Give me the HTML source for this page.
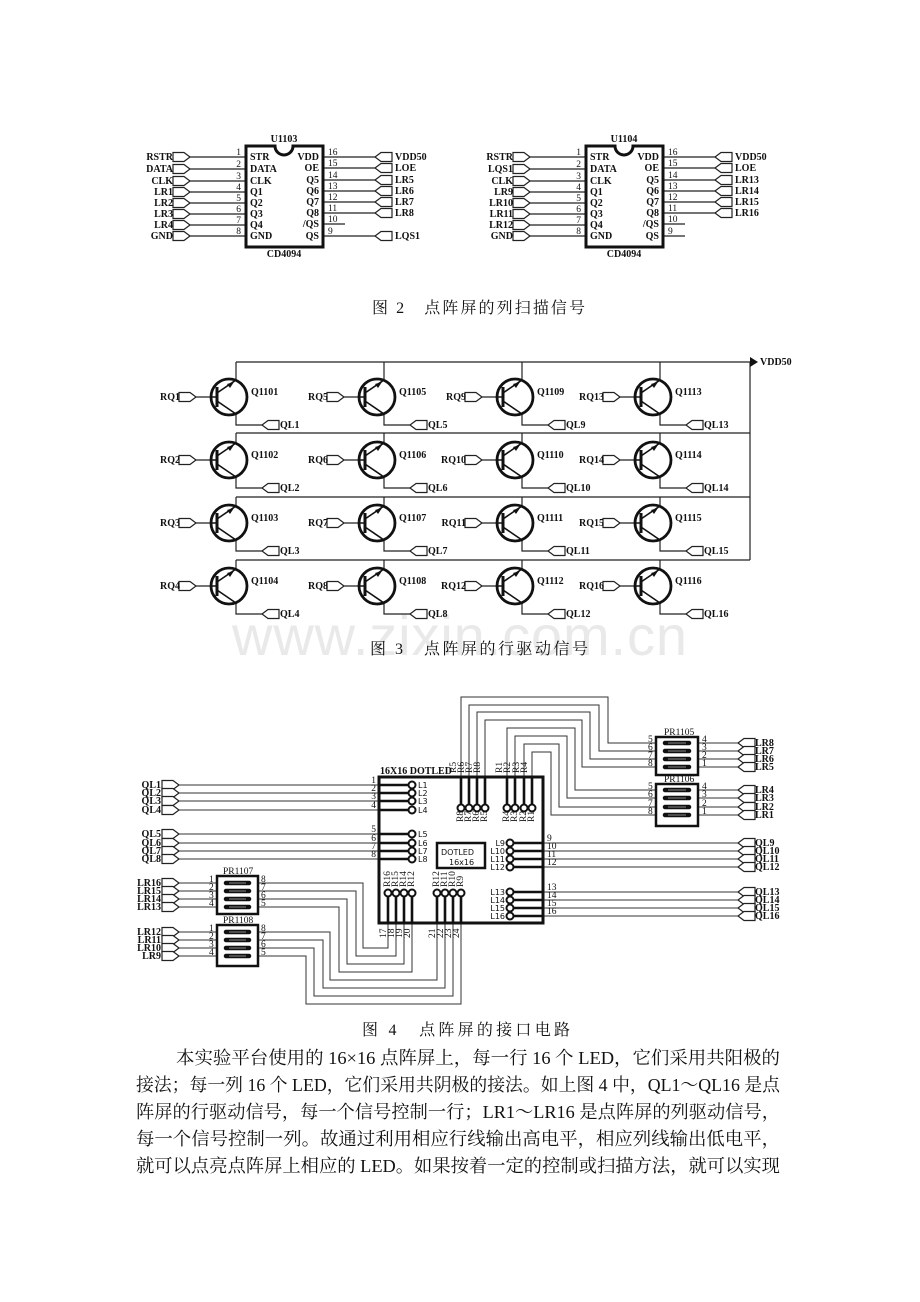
<!DOCTYPE html>
<html><head><meta charset="utf-8"><style>
html,body{margin:0;padding:0;background:#fff}
svg{display:block}
.t{font-family:"Liberation Serif",serif;font-size:10px;font-weight:bold;fill:#111}
.s{font-family:"Liberation Serif",serif;font-size:9.5px;fill:#111}
.n{font-family:"DejaVu Sans","Liberation Sans",sans-serif;font-size:8px;fill:#111}
.cap{font-family:"Liberation Serif","Noto Serif CJK SC",serif;font-size:16px;fill:#111}
.p{font-family:"Liberation Serif","Noto Serif CJK SC",serif;font-size:18px;fill:#111}
</style></head><body>
<svg width="920" height="1302" viewBox="0 0 920 1302" xmlns="http://www.w3.org/2000/svg">
<defs>
<path id="cr" d="M0,-4.5H11L17,0L11,4.5H0Z" fill="#fff" stroke="#222" stroke-width="1.2"/>
<path id="cl" d="M17,-4.5H6L0,0L6,4.5H17Z" fill="#fff" stroke="#222" stroke-width="1.2"/>
<g id="q" fill="none" stroke="#111">
<circle r="18" stroke-width="2.8"/>
<line x1="-12" y1="-10" x2="-12" y2="10" stroke-width="3"/>
<line x1="-18" y1="0" x2="-12" y2="0" stroke-width="1.5"/>
<line x1="-12" y1="-4" x2="7" y2="-17" stroke-width="1.6"/>
<line x1="-12" y1="4" x2="7" y2="17" stroke-width="1.6"/>
<path d="M5,-15L-2,-13L1,-9Z" fill="#111" stroke="none"/>
</g>
<circle id="pd" r="3.5" fill="#fff" stroke="#111" stroke-width="2"/>
</defs>

<!-- ============ FIG 2 ============ -->
<g id="ic1">
<g stroke="#222" stroke-width="1.3">
<line x1="190" y1="157" x2="246" y2="157"/><line x1="190" y1="169" x2="246" y2="169"/>
<line x1="190" y1="181" x2="246" y2="181"/><line x1="190" y1="192" x2="246" y2="192"/>
<line x1="190" y1="203" x2="246" y2="203"/><line x1="190" y1="214" x2="246" y2="214"/>
<line x1="190" y1="225" x2="246" y2="225"/><line x1="190" y1="236" x2="246" y2="236"/>
<line x1="323" y1="157" x2="375" y2="157"/><line x1="323" y1="168" x2="375" y2="168"/>
<line x1="323" y1="180" x2="375" y2="180"/><line x1="323" y1="191" x2="375" y2="191"/>
<line x1="323" y1="202" x2="375" y2="202"/><line x1="323" y1="213" x2="375" y2="213"/>
<line x1="323" y1="224" x2="345" y2="224"/><line x1="323" y1="236" x2="375" y2="236"/>
</g>
<path d="M246,146H275A9,9 0 0 0 293,146H323V247H246Z" fill="#fff" stroke="#111" stroke-width="3"/>
<text class="t" x="284" y="142" text-anchor="middle">U1103</text>
<text class="t" x="284" y="257" text-anchor="middle">CD4094</text>
<g class="t">
<text x="250" y="160">STR</text><text x="250" y="172">DATA</text><text x="250" y="184">CLK</text>
<text x="250" y="195">Q1</text><text x="250" y="206">Q2</text><text x="250" y="217">Q3</text>
<text x="250" y="228">Q4</text><text x="250" y="239">GND</text>
</g>
<g class="t" text-anchor="end">
<text x="319" y="160">VDD</text><text x="319" y="171">OE</text><text x="319" y="183">Q5</text>
<text x="319" y="194">Q6</text><text x="319" y="205">Q7</text><text x="319" y="216">Q8</text>
<text x="319" y="227">/QS</text><text x="319" y="239">QS</text>
</g>
<g class="s" text-anchor="end">
<text x="241" y="155">1</text><text x="241" y="167">2</text><text x="241" y="179">3</text>
<text x="241" y="190">4</text><text x="241" y="201">5</text><text x="241" y="212">6</text>
<text x="241" y="223">7</text><text x="241" y="234">8</text>
</g>
<g class="s">
<text x="328" y="155">16</text><text x="328" y="166">15</text><text x="328" y="178">14</text>
<text x="328" y="189">13</text><text x="328" y="200">12</text><text x="328" y="211">11</text>
<text x="328" y="222">10</text><text x="328" y="234">9</text>
</g>
<use href="#cr" x="173" y="157"/><use href="#cr" x="173" y="169"/><use href="#cr" x="173" y="181"/>
<use href="#cr" x="173" y="192"/><use href="#cr" x="173" y="203"/><use href="#cr" x="173" y="214"/>
<use href="#cr" x="173" y="225"/><use href="#cr" x="173" y="236"/>
</g>
<g class="t" text-anchor="end">
<text x="173" y="160">RSTR</text><text x="173" y="172">DATA</text><text x="173" y="184">CLK</text>
<text x="173" y="195">LR1</text><text x="173" y="206">LR2</text><text x="173" y="217">LR3</text>
<text x="173" y="228">LR4</text><text x="173" y="239">GND</text>
</g>
<use href="#cl" x="375" y="157"/><use href="#cl" x="375" y="168"/><use href="#cl" x="375" y="180"/>
<use href="#cl" x="375" y="191"/><use href="#cl" x="375" y="202"/><use href="#cl" x="375" y="213"/>
<use href="#cl" x="375" y="236"/>
<g class="t">
<text x="395" y="160">VDD50</text><text x="395" y="171">LOE</text><text x="395" y="183">LR5</text>
<text x="395" y="194">LR6</text><text x="395" y="205">LR7</text><text x="395" y="216">LR8</text>
<text x="395" y="239">LQS1</text>
</g>

<!-- IC2 -->
<g transform="translate(340,0)">
<g stroke="#222" stroke-width="1.3">
<line x1="190" y1="157" x2="246" y2="157"/><line x1="190" y1="169" x2="246" y2="169"/>
<line x1="190" y1="181" x2="246" y2="181"/><line x1="190" y1="192" x2="246" y2="192"/>
<line x1="190" y1="203" x2="246" y2="203"/><line x1="190" y1="214" x2="246" y2="214"/>
<line x1="190" y1="225" x2="246" y2="225"/><line x1="190" y1="236" x2="246" y2="236"/>
<line x1="323" y1="157" x2="375" y2="157"/><line x1="323" y1="168" x2="375" y2="168"/>
<line x1="323" y1="180" x2="375" y2="180"/><line x1="323" y1="191" x2="375" y2="191"/>
<line x1="323" y1="202" x2="375" y2="202"/><line x1="323" y1="213" x2="375" y2="213"/>
<line x1="323" y1="224" x2="345" y2="224"/><line x1="323" y1="236" x2="345" y2="236"/>
</g>
<path d="M246,146H275A9,9 0 0 0 293,146H323V247H246Z" fill="#fff" stroke="#111" stroke-width="3"/>
<text class="t" x="284" y="142" text-anchor="middle">U1104</text>
<text class="t" x="284" y="257" text-anchor="middle">CD4094</text>
<g class="t">
<text x="250" y="160">STR</text><text x="250" y="172">DATA</text><text x="250" y="184">CLK</text>
<text x="250" y="195">Q1</text><text x="250" y="206">Q2</text><text x="250" y="217">Q3</text>
<text x="250" y="228">Q4</text><text x="250" y="239">GND</text>
</g>
<g class="t" text-anchor="end">
<text x="319" y="160">VDD</text><text x="319" y="171">OE</text><text x="319" y="183">Q5</text>
<text x="319" y="194">Q6</text><text x="319" y="205">Q7</text><text x="319" y="216">Q8</text>
<text x="319" y="227">/QS</text><text x="319" y="239">QS</text>
</g>
<g class="s" text-anchor="end">
<text x="241" y="155">1</text><text x="241" y="167">2</text><text x="241" y="179">3</text>
<text x="241" y="190">4</text><text x="241" y="201">5</text><text x="241" y="212">6</text>
<text x="241" y="223">7</text><text x="241" y="234">8</text>
</g>
<g class="s">
<text x="328" y="155">16</text><text x="328" y="166">15</text><text x="328" y="178">14</text>
<text x="328" y="189">13</text><text x="328" y="200">12</text><text x="328" y="211">11</text>
<text x="328" y="222">10</text><text x="328" y="234">9</text>
</g>
<use href="#cr" x="173" y="157"/><use href="#cr" x="173" y="169"/><use href="#cr" x="173" y="181"/>
<use href="#cr" x="173" y="192"/><use href="#cr" x="173" y="203"/><use href="#cr" x="173" y="214"/>
<use href="#cr" x="173" y="225"/><use href="#cr" x="173" y="236"/>
<g class="t" text-anchor="end">
<text x="173" y="160">RSTR</text><text x="173" y="172">LQS1</text><text x="173" y="184">CLK</text>
<text x="173" y="195">LR9</text><text x="173" y="206">LR10</text><text x="173" y="217">LR11</text>
<text x="173" y="228">LR12</text><text x="173" y="239">GND</text>
</g>
<use href="#cl" x="375" y="157"/><use href="#cl" x="375" y="168"/><use href="#cl" x="375" y="180"/>
<use href="#cl" x="375" y="191"/><use href="#cl" x="375" y="202"/><use href="#cl" x="375" y="213"/>
<g class="t">
<text x="395" y="160">VDD50</text><text x="395" y="171">LOE</text><text x="395" y="183">LR13</text>
<text x="395" y="194">LR14</text><text x="395" y="205">LR15</text><text x="395" y="216">LR16</text>
</g>
</g>

<text class="cap" x="372" y="313" textLength="213">图 2　点阵屏的列扫描信号</text>

<!-- ============ FIG 3 ============ -->
<text x="232" y="655" font-family="Liberation Sans,sans-serif" font-size="56" fill="#e9e9e9" textLength="455">www.zixin.com.cn</text>
<g stroke="#222" stroke-width="1.2" fill="none">
<line x1="236" y1="362" x2="750" y2="362"/>
<line x1="236" y1="433" x2="750" y2="433"/>
<line x1="236" y1="497" x2="750" y2="497"/>
<line x1="236" y1="560" x2="750" y2="560"/>
<line x1="750" y1="362" x2="750" y2="560"/>
</g>
<path d="M750,357L758,362L750,367Z" fill="#111"/>
<text class="t" x="760" y="365" font-size="6">VDD50</text>

<g stroke="#222" stroke-width="1.2" fill="none">
<path d="M236,362V380M236,414V425H262M196,397H211"/>
<path d="M384,362V380M384,414V425H410M344,397H359"/>
<path d="M522,362V380M522,414V425H548M482,397H497"/>
<path d="M660,362V380M660,414V425H686M620,397H635"/>
<path d="M236,433V443M236,477V488H262M196,460H211"/>
<path d="M384,433V443M384,477V488H410M344,460H359"/>
<path d="M522,433V443M522,477V488H548M482,460H497"/>
<path d="M660,433V443M660,477V488H686M620,460H635"/>
<path d="M236,497V506M236,540V551H262M196,523H211"/>
<path d="M384,497V506M384,540V551H410M344,523H359"/>
<path d="M522,497V506M522,540V551H548M482,523H497"/>
<path d="M660,497V506M660,540V551H686M620,523H635"/>
<path d="M236,560V569M236,603V614H262M196,586H211"/>
<path d="M384,560V569M384,603V614H410M344,586H359"/>
<path d="M522,560V569M522,603V614H548M482,586H497"/>
<path d="M660,560V569M660,603V614H686M620,586H635"/>
</g>
<use href="#q" x="229" y="397"/><use href="#q" x="377" y="397"/><use href="#q" x="515" y="397"/><use href="#q" x="653" y="397"/>
<use href="#q" x="229" y="460"/><use href="#q" x="377" y="460"/><use href="#q" x="515" y="460"/><use href="#q" x="653" y="460"/>
<use href="#q" x="229" y="523"/><use href="#q" x="377" y="523"/><use href="#q" x="515" y="523"/><use href="#q" x="653" y="523"/>
<use href="#q" x="229" y="586"/><use href="#q" x="377" y="586"/><use href="#q" x="515" y="586"/><use href="#q" x="653" y="586"/>
<g>
<use href="#cr" x="179" y="397"/><use href="#cr" x="327" y="397"/><use href="#cr" x="465" y="397"/><use href="#cr" x="603" y="397"/>
<use href="#cr" x="179" y="460"/><use href="#cr" x="327" y="460"/><use href="#cr" x="465" y="460"/><use href="#cr" x="603" y="460"/>
<use href="#cr" x="179" y="523"/><use href="#cr" x="327" y="523"/><use href="#cr" x="465" y="523"/><use href="#cr" x="603" y="523"/>
<use href="#cr" x="179" y="586"/><use href="#cr" x="327" y="586"/><use href="#cr" x="465" y="586"/><use href="#cr" x="603" y="586"/>
<use href="#cl" x="262" y="425"/><use href="#cl" x="410" y="425"/><use href="#cl" x="548" y="425"/><use href="#cl" x="686" y="425"/>
<use href="#cl" x="262" y="488"/><use href="#cl" x="410" y="488"/><use href="#cl" x="548" y="488"/><use href="#cl" x="686" y="488"/>
<use href="#cl" x="262" y="551"/><use href="#cl" x="410" y="551"/><use href="#cl" x="548" y="551"/><use href="#cl" x="686" y="551"/>
<use href="#cl" x="262" y="614"/><use href="#cl" x="410" y="614"/><use href="#cl" x="548" y="614"/><use href="#cl" x="686" y="614"/>
</g>
<g class="t" font-size="7.5" text-anchor="end">
<text x="180" y="400">RQ1</text><text x="328" y="400">RQ5</text><text x="466" y="400">RQ9</text><text x="604" y="400">RQ13</text>
<text x="180" y="463">RQ2</text><text x="328" y="463">RQ6</text><text x="466" y="463">RQ10</text><text x="604" y="463">RQ14</text>
<text x="180" y="526">RQ3</text><text x="328" y="526">RQ7</text><text x="466" y="526">RQ11</text><text x="604" y="526">RQ15</text>
<text x="180" y="589">RQ4</text><text x="328" y="589">RQ8</text><text x="466" y="589">RQ12</text><text x="604" y="589">RQ16</text>
</g>
<g class="t" font-size="7.5">
<text x="280" y="428">QL1</text><text x="428" y="428">QL5</text><text x="566" y="428">QL9</text><text x="704" y="428">QL13</text>
<text x="280" y="491">QL2</text><text x="428" y="491">QL6</text><text x="566" y="491">QL10</text><text x="704" y="491">QL14</text>
<text x="280" y="554">QL3</text><text x="428" y="554">QL7</text><text x="566" y="554">QL11</text><text x="704" y="554">QL15</text>
<text x="280" y="617">QL4</text><text x="428" y="617">QL8</text><text x="566" y="617">QL12</text><text x="704" y="617">QL16</text>
<text x="251" y="395">Q1101</text><text x="399" y="395">Q1105</text><text x="537" y="395">Q1109</text><text x="675" y="395">Q1113</text>
<text x="251" y="458">Q1102</text><text x="399" y="458">Q1106</text><text x="537" y="458">Q1110</text><text x="675" y="458">Q1114</text>
<text x="251" y="521">Q1103</text><text x="399" y="521">Q1107</text><text x="537" y="521">Q1111</text><text x="675" y="521">Q1115</text>
<text x="251" y="584">Q1104</text><text x="399" y="584">Q1108</text><text x="537" y="584">Q1112</text><text x="675" y="584">Q1116</text>
</g>
<text class="cap" x="370" y="654" textLength="218">图 3　点阵屏的行驱动信号</text>

<!-- ============ FIG 4 ============ -->
<g stroke="#333" stroke-width="1" fill="none">
<path d="M175,785H379M175,793H379M175,801H379M175,810H379M175,834H379M175,843H379M175,851H379M175,859H379"/>
<path d="M543,843H740M543,851H740M543,859H740M543,867H740M543,892H740M543,900H740M543,908H740M543,916H740"/>
<path d="M461,777V697H608V743H656M469,777V705H599V751H656M477,777V712H590V759H656M485,777V720H582V767H656"/>
<path d="M507,777V728H575V790H656M515,777V736H567V798H656M524,777V744H559V807H656M532,777V752H551V815H656"/>
<path d="M698,743H740M698,751H740M698,759H740M698,767H740M698,790H740M698,798H740M698,807H740M698,815H740"/>
<path d="M175,883H217M175,891H217M175,899H217M175,907H217M175,932H217M175,940H217M175,948H217M175,956H217"/>
<path d="M258,883H363V948H388V923M258,891H356V956H396V923M258,899H347V964H404V923M258,907H339V972H412V923"/>
<path d="M258,932H330V980H437V923M258,940H323V988H445V923M258,948H314V996H453V923M258,956H306V1004H461V923"/>
</g>
<g stroke="#111" stroke-width="2.6">
<path d="M379,785H412M379,793H412M379,801H412M379,810H412M379,834H412M379,843H412M379,851H412M379,859H412"/>
<path d="M510,843H543M510,851H543M510,859H543M510,867H543M510,892H543M510,900H543M510,908H543M510,916H543"/>
<path d="M461,777V808M469,777V808M477,777V808M485,777V808M507,777V808M515,777V808M524,777V808M532,777V808"/>
<path d="M388,893V923M396,893V923M404,893V923M412,893V923M437,893V923M445,893V923M453,893V923M461,893V923"/>
</g>
<rect x="379" y="777" width="164" height="146" fill="none" stroke="#111" stroke-width="3"/>
<g>
<use href="#pd" x="412" y="785"/><use href="#pd" x="412" y="793"/><use href="#pd" x="412" y="801"/><use href="#pd" x="412" y="810"/>
<use href="#pd" x="412" y="834"/><use href="#pd" x="412" y="843"/><use href="#pd" x="412" y="851"/><use href="#pd" x="412" y="859"/>
<use href="#pd" x="510" y="843"/><use href="#pd" x="510" y="851"/><use href="#pd" x="510" y="859"/><use href="#pd" x="510" y="867"/>
<use href="#pd" x="510" y="892"/><use href="#pd" x="510" y="900"/><use href="#pd" x="510" y="908"/><use href="#pd" x="510" y="916"/>
<use href="#pd" x="461" y="808"/><use href="#pd" x="469" y="808"/><use href="#pd" x="477" y="808"/><use href="#pd" x="485" y="808"/>
<use href="#pd" x="507" y="808"/><use href="#pd" x="515" y="808"/><use href="#pd" x="524" y="808"/><use href="#pd" x="532" y="808"/>
<use href="#pd" x="388" y="893"/><use href="#pd" x="396" y="893"/><use href="#pd" x="404" y="893"/><use href="#pd" x="412" y="893"/>
<use href="#pd" x="437" y="893"/><use href="#pd" x="445" y="893"/><use href="#pd" x="453" y="893"/><use href="#pd" x="461" y="893"/>
</g>
<text class="t" x="380" y="774" font-size="8">16X16 DOTLED</text>
<rect x="437" y="843" width="48" height="25" fill="none" stroke="#111" stroke-width="2.5"/>
<text class="n" x="441" y="855" font-size="10">DOTLED</text>
<text class="n" x="449" y="865" font-size="10">16x16</text>
<g class="n" font-size="7.5">
<text x="418" y="788">L1</text><text x="418" y="796">L2</text><text x="418" y="804">L3</text><text x="418" y="813">L4</text>
<text x="418" y="837">L5</text><text x="418" y="846">L6</text><text x="418" y="854">L7</text><text x="418" y="862">L8</text>
</g>
<g class="n" font-size="7.5" text-anchor="end">
<text x="505" y="846">L9</text><text x="505" y="854">L10</text><text x="505" y="862">L11</text><text x="505" y="870">L12</text>
<text x="505" y="895">L13</text><text x="505" y="903">L14</text><text x="505" y="911">L15</text><text x="505" y="919">L16</text>
</g>
<g class="s" font-size="6.5" text-anchor="end">
<text x="376" y="783">1</text><text x="376" y="791">2</text><text x="376" y="799">3</text><text x="376" y="808">4</text>
<text x="376" y="832">5</text><text x="376" y="841">6</text><text x="376" y="849">7</text><text x="376" y="857">8</text>
</g>
<g class="s" font-size="6.5">
<text x="547" y="841">9</text><text x="547" y="849">10</text><text x="547" y="857">11</text><text x="547" y="865">12</text>
<text x="547" y="890">13</text><text x="547" y="898">14</text><text x="547" y="906">15</text><text x="547" y="914">16</text>
</g>
<g class="s" font-size="5">
<text transform="translate(456,773) rotate(-90)">R5</text><text transform="translate(464,773) rotate(-90)">R6</text>
<text transform="translate(472,773) rotate(-90)">R7</text><text transform="translate(480,773) rotate(-90)">R8</text>
<text transform="translate(502,773) rotate(-90)">R1</text><text transform="translate(510,773) rotate(-90)">R2</text>
<text transform="translate(519,773) rotate(-90)">R3</text><text transform="translate(527,773) rotate(-90)">R4</text>
<text transform="translate(463,822) rotate(-90)">R8</text><text transform="translate(471,822) rotate(-90)">R7</text>
<text transform="translate(479,822) rotate(-90)">R6</text><text transform="translate(487,822) rotate(-90)">R5</text>
<text transform="translate(509,822) rotate(-90)">R4</text><text transform="translate(517,822) rotate(-90)">R3</text>
<text transform="translate(526,822) rotate(-90)">R2</text><text transform="translate(534,822) rotate(-90)">R1</text>
<text transform="translate(390,887) rotate(-90)">R16</text><text transform="translate(398,887) rotate(-90)">R15</text>
<text transform="translate(406,887) rotate(-90)">R14</text><text transform="translate(414,887) rotate(-90)">R12</text>
<text transform="translate(439,887) rotate(-90)">R12</text><text transform="translate(447,887) rotate(-90)">R11</text>
<text transform="translate(455,887) rotate(-90)">R10</text><text transform="translate(463,887) rotate(-90)">R9</text>
<text transform="translate(386,938) rotate(-90)">17</text><text transform="translate(394,938) rotate(-90)">18</text>
<text transform="translate(402,938) rotate(-90)">19</text><text transform="translate(410,938) rotate(-90)">20</text>
<text transform="translate(435,938) rotate(-90)">21</text><text transform="translate(443,938) rotate(-90)">22</text>
<text transform="translate(451,938) rotate(-90)">23</text><text transform="translate(459,938) rotate(-90)">24</text>
</g>
<g fill="none" stroke="#111" stroke-width="2.5">
<rect x="217" y="876" width="41" height="38"/>
<rect x="217" y="925" width="41" height="41"/>
<rect x="656" y="737" width="42" height="38"/>
<rect x="656" y="784" width="42" height="42"/>
</g>
<g stroke="#111" stroke-width="4.5" stroke-linecap="round">
<path d="M226,883H249M226,891H249M226,899H249M226,907H249"/>
<path d="M226,932H249M226,940H249M226,948H249M226,956H249"/>
<path d="M665,743H689M665,751H689M665,759H689M665,767H689"/>
<path d="M665,790H689M665,798H689M665,807H689M665,815H689"/>
</g>
<g stroke="#888" stroke-width="1">
<path d="M229,883H246M229,891H246M229,899H246M229,907H246M229,932H246M229,940H246M229,948H246M229,956H246"/>
<path d="M668,743H686M668,751H686M668,759H686M668,767H686M668,790H686M668,798H686M668,807H686M668,815H686"/>
</g>
<g class="s" font-size="6.5">
<text x="223" y="874">PR1107</text><text x="223" y="923">PR1108</text>
<text x="664" y="735">PR1105</text><text x="664" y="782">PR1106</text>
<text x="209" y="882">1</text><text x="209" y="890">2</text><text x="209" y="898">3</text><text x="209" y="906">4</text>
<text x="209" y="931">1</text><text x="209" y="939">2</text><text x="209" y="947">3</text><text x="209" y="955">4</text>
<text x="261" y="882">8</text><text x="261" y="890">7</text><text x="261" y="898">6</text><text x="261" y="906">5</text>
<text x="261" y="931">8</text><text x="261" y="939">7</text><text x="261" y="947">6</text><text x="261" y="955">5</text>
<text x="648" y="742">5</text><text x="648" y="750">6</text><text x="648" y="758">7</text><text x="648" y="766">8</text>
<text x="648" y="789">5</text><text x="648" y="797">6</text><text x="648" y="806">7</text><text x="648" y="814">8</text>
<text x="702" y="742">4</text><text x="702" y="750">3</text><text x="702" y="758">2</text><text x="702" y="766">1</text>
<text x="702" y="789">4</text><text x="702" y="797">3</text><text x="702" y="806">2</text><text x="702" y="814">1</text>
</g>
<g>
<use href="#cr" x="162" y="785"/><use href="#cr" x="162" y="793"/><use href="#cr" x="162" y="801"/><use href="#cr" x="162" y="810"/>
<use href="#cr" x="162" y="834"/><use href="#cr" x="162" y="843"/><use href="#cr" x="162" y="851"/><use href="#cr" x="162" y="859"/>
<use href="#cr" x="162" y="883"/><use href="#cr" x="162" y="891"/><use href="#cr" x="162" y="899"/><use href="#cr" x="162" y="907"/>
<use href="#cr" x="162" y="932"/><use href="#cr" x="162" y="940"/><use href="#cr" x="162" y="948"/><use href="#cr" x="162" y="956"/>
<use href="#cl" x="738" y="743"/><use href="#cl" x="738" y="751"/><use href="#cl" x="738" y="759"/><use href="#cl" x="738" y="767"/>
<use href="#cl" x="738" y="790"/><use href="#cl" x="738" y="798"/><use href="#cl" x="738" y="807"/><use href="#cl" x="738" y="815"/>
<use href="#cl" x="738" y="843"/><use href="#cl" x="738" y="851"/><use href="#cl" x="738" y="859"/><use href="#cl" x="738" y="867"/>
<use href="#cl" x="738" y="892"/><use href="#cl" x="738" y="900"/><use href="#cl" x="738" y="908"/><use href="#cl" x="738" y="916"/>
</g>
<g class="t" font-size="8" text-anchor="end">
<text x="161" y="788">QL1</text><text x="161" y="796">QL2</text><text x="161" y="804">QL3</text><text x="161" y="813">QL4</text>
<text x="161" y="837">QL5</text><text x="161" y="846">QL6</text><text x="161" y="854">QL7</text><text x="161" y="862">QL8</text>
<text x="161" y="886">LR16</text><text x="161" y="894">LR15</text><text x="161" y="902">LR14</text><text x="161" y="910">LR13</text>
<text x="161" y="935">LR12</text><text x="161" y="943">LR11</text><text x="161" y="951">LR10</text><text x="161" y="959">LR9</text>
</g>
<g class="t" font-size="8">
<text x="755" y="746">LR8</text><text x="755" y="754">LR7</text><text x="755" y="762">LR6</text><text x="755" y="770">LR5</text>
<text x="755" y="793">LR4</text><text x="755" y="801">LR3</text><text x="755" y="810">LR2</text><text x="755" y="818">LR1</text>
<text x="755" y="846">QL9</text><text x="755" y="854">QL10</text><text x="755" y="862">QL11</text><text x="755" y="870">QL12</text>
<text x="755" y="895">QL13</text><text x="755" y="903">QL14</text><text x="755" y="911">QL15</text><text x="755" y="919">QL16</text>
</g>

<text class="cap" x="362" y="1035" textLength="208">图 4　点阵屏的接口电路</text>

<g class="p">
<text x="176" y="1064" textLength="604" lengthAdjust="spacingAndGlyphs">本实验平台使用的 16×16 点阵屏上，每一行 16 个 LED，它们采用共阳极的</text>
<text x="136" y="1091" textLength="644" lengthAdjust="spacingAndGlyphs">接法；每一列 16 个 LED，它们采用共阴极的接法。如上图 4 中，QL1～QL16 是点</text>
<text x="136" y="1118" textLength="644" lengthAdjust="spacingAndGlyphs">阵屏的行驱动信号，每一个信号控制一行；LR1～LR16 是点阵屏的列驱动信号，</text>
<text x="136" y="1145" textLength="644" lengthAdjust="spacingAndGlyphs">每一个信号控制一列。故通过利用相应行线输出高电平，相应列线输出低电平，</text>
<text x="136" y="1172" textLength="644" lengthAdjust="spacingAndGlyphs">就可以点亮点阵屏上相应的 LED。如果按着一定的控制或扫描方法，就可以实现</text>
</g>
</svg>
</body></html>
